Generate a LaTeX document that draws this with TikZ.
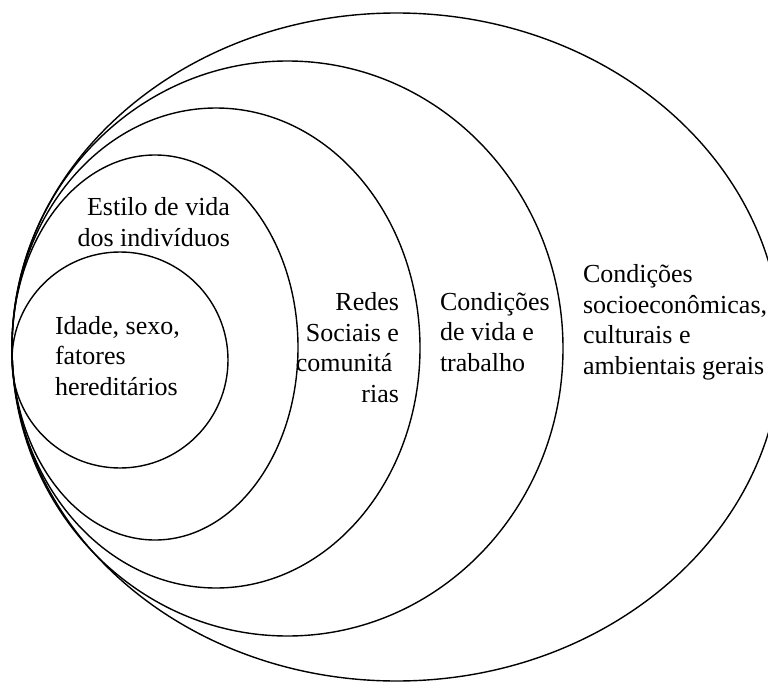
\documentclass[tikz,border=0pt]{standalone}
\usepackage{fontspec}
\setmainfont{Liberation Serif}
\tikzset{
  ring/.style={draw=black, line width=1.4pt},
  lbl/.style={font=\fontsize{26}{30.5}\selectfont, inner sep=0pt, outer sep=0pt},
}
\begin{document}
\begin{tikzpicture}[x=1pt,y=-1pt]
\useasboundingbox (0,0) rectangle (768,682);
\clip (0,0) rectangle (768,682);
\fill[white] (0,0) rectangle (768,682);
% nested ellipses (all tangent on the left)
\draw[ring] (396.6,347) ellipse [x radius=384.6pt, y radius=334pt];
\draw[ring] (287.5,348.5) ellipse [x radius=275.5pt, y radius=287.5pt];
\draw[ring] (216,348) ellipse [x radius=204pt, y radius=240pt];
\draw[ring] (155,347.5) ellipse [x radius=143pt, y radius=192.5pt];
\draw[ring] (120,360) ellipse [x radius=108pt, y radius=108pt];
% labels (base anchor = baseline of the last line)
\node[lbl, anchor=base west, align=left] (idade) at (55,395)
  {Idade, sexo,\\fatores\\hereditários};
\node[lbl, anchor=base east, align=right] (estilo) at (230,246)
  {Estilo de vida\\dos indivíduos};
\node[lbl, anchor=base east, align=right] (redes) at (399,402)
  {Redes\\Sociais e\\comunitá\kern0.25em\\rias};
\node[lbl, anchor=base west, align=left] (vida) at (440,371)
  {Condições\\de vida e\\trabalho};
\node[lbl, anchor=base west, align=left] (gerais) at (583,374)
  {Condições\\socioeconômicas,\\culturais e\\ambientais gerais};
\end{tikzpicture}
\end{document}
